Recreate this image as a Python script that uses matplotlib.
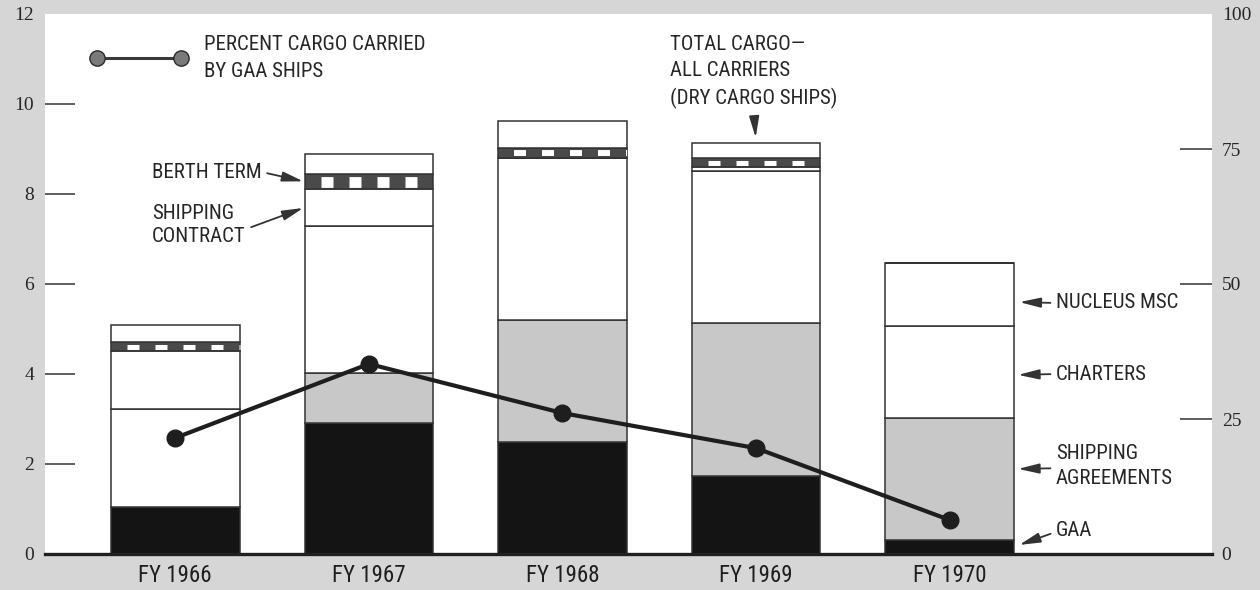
import matplotlib
matplotlib.use('Agg')
import matplotlib.pyplot as plt
from matplotlib.lines import Line2D
from matplotlib import font_manager as fm
import numpy as np

# ---------------- data (millions of long tons) ----------------
years = ['FY 1966', 'FY 1967', 'FY 1968', 'FY 1969', 'FY 1970']
gaa = [1.05, 2.92, 2.50, 1.73, 0.32]
agreements = [0.00, 1.10, 2.70, 3.40, 2.70]
charters = [2.17, 3.27, 3.60, 3.38, 2.05]
nucleus = [0.00, 0.00, 0.00, 0.00, 1.40]
contract = [1.29, 0.82, 0.00, 0.09, 0.00]
berth = [0.20, 0.33, 0.22, 0.20, 0.00]
other = [0.38, 0.45, 0.60, 0.33, 0.00]
pct_gaa = [21.5, 35.2, 26.1, 19.6, 6.3]

left_ticks = [2, 4, 6, 8, 10]
left_end_ticks = [0, 12]
right_ticks = [25, 50, 75]
right_end_ticks = [0, 100]

# ---------------- fonts ----------------
avail = {f.name for f in fm.fontManager.ttflist}
def pick(*names):
    for n in names:
        if n in avail:
            return n
    return 'DejaVu Sans'
SANS = pick('Liberation Sans Narrow', 'DejaVu Sans Condensed', 'Roboto Condensed', 'Liberation Sans')
SERIF = pick('Liberation Serif', 'DejaVu Serif')
plt.rcParams['lines.scale_dashes'] = False

INK = '#262626'
W, H = 1260, 590
fig = plt.figure(figsize=(W / 100, H / 100), dpi=100, facecolor='#d6d6d6')
AX_L, AX_R, AX_B, AX_T = 45, 1212, 554, 14
ax = fig.add_axes([AX_L / W, (H - AX_B) / H, (AX_R - AX_L) / W, (AX_B - AX_T) / H])
ax.set_facecolor('white')
for s in ax.spines.values():
    s.set_visible(False)

x = np.arange(len(years))
w = 0.664
ax.set_xlim(-0.673, 5.355)
ax.set_ylim(0, 12)

segments = [(gaa, '#141414'), (agreements, '#c8c8c8'), (charters, 'white'),
            (nucleus, 'white'), (contract, 'white'), (berth, '#4a4a4a'), (other, 'white')]
bottom = np.zeros(len(years))
bottoms = []
for vals, col in segments:
    vals = np.asarray(vals, dtype=float)
    bottoms.append(bottom.copy())
    ax.bar(x, vals, w, bottom=bottom, color=col, edgecolor='#333333',
           linewidth=1.1, zorder=2)
    bottom = bottom + vals
total = bottom
berth_bottom = bottoms[5]

# checker dashes on the berth-term band
px_per_unit = (AX_B - AX_T) / 12.0
for i in x:
    if berth[i] > 0:
        yc = berth_bottom[i] + berth[i] / 2
        lw_px = max(berth[i] * px_per_unit - 4, 3)
        ax.plot([i - w / 2, i + w / 2], [yc, yc], color='white', lw=lw_px * 0.72,
                linestyle=(12 * 0.72, (12 * 0.72, 16 * 0.72)),
                dash_capstyle='butt', solid_capstyle='butt', zorder=3)

ax.axhline(0, color='#202020', lw=2.4, zorder=4, clip_on=False)

# left axis ticks
ax.set_yticks(left_ticks, labels=[str(t) for t in left_ticks])
ax.set_yticks(left_end_ticks, labels=[str(t) for t in left_end_ticks], minor=True)
ax.tick_params(axis='y', which='major', direction='in', length=21.6, width=1.1,
               color='#333333', pad=8, labelsize=14, labelcolor=INK)
ax.tick_params(axis='y', which='minor', length=0, pad=8, labelsize=14, labelcolor=INK)
ax.set_xticks(x, labels=years)
ax.tick_params(axis='x', length=0, pad=7, labelsize=16.5, labelcolor='#1e1e1e')
for lbl in ax.get_yticklabels(which='both'):
    lbl.set_fontfamily(SERIF)
for lbl in ax.get_xticklabels():
    lbl.set_fontfamily(SANS)

# right axis (percent)
ax2 = ax.twinx()
for s in ax2.spines.values():
    s.set_visible(False)
ax2.set_ylim(0, 100)
ax2.set_yticks(right_ticks, labels=[str(t) for t in right_ticks])
ax2.set_yticks(right_end_ticks, labels=[str(t) for t in right_end_ticks], minor=True)
ax2.tick_params(axis='y', which='major', direction='in', length=23, width=1.1,
                color='#333333', pad=7, labelsize=14, labelcolor=INK)
ax2.tick_params(axis='y', which='minor', length=0, pad=7, labelsize=14, labelcolor=INK)
for lbl in ax2.get_yticklabels(which='both'):
    lbl.set_fontfamily(SERIF)

ax2.plot(x, pct_gaa, color='#1e1e1e', lw=3, marker='o', ms=12,
         markerfacecolor='#1e1e1e', markeredgecolor='#1e1e1e', zorder=5)

# legend
handle = Line2D([], [], color='#3a3a3a', lw=2.2, marker='o', ms=11,
                markerfacecolor='#7a7a7a', markeredgecolor='#2a2a2a')
leg = ax2.legend([handle], ['PERCENT CARGO CARRIED\nBY GAA SHIPS'], numpoints=2,
                 loc='upper left', bbox_to_anchor=(91 / W, 1 - 35 / H),
                 bbox_transform=fig.transFigure, frameon=False, handlelength=4.6,
                 handletextpad=0.8, borderpad=0, borderaxespad=0,
                 prop={'family': SANS, 'size': 15})
for t in leg.get_texts():
    t.set_color(INK)
    t.set_linespacing(1.55)

# annotations
def fpx(xp, yp):
    return (xp, H - yp)

def arrow(relpos, sA=2, sB=2):
    return dict(arrowstyle='-|>,head_length=0.85,head_width=0.2', color='#333333',
                lw=1.3, shrinkA=sA, shrinkB=sB, relpos=relpos)

tk = dict(family=SANS, size=15, color=INK, textcoords='figure pixels')

ax.annotate('BERTH TERM', xy=(x[1] - w / 2, berth_bottom[1] + berth[1] / 2),
            xytext=fpx(152, 172), ha='left', va='center',
            arrowprops=arrow((1, 0.5), 2, 1), **tk)
ax.annotate('SHIPPING\nCONTRACT', xy=(x[1] - w / 2, bottoms[4][1] + contract[1] / 2),
            xytext=fpx(152, 225), ha='left', va='center', linespacing=1.25,
            arrowprops=arrow((1, 0.4), 2, 1), **tk)
ax.annotate('TOTAL CARGO\u2014\nALL CARRIERS\n(DRY CARGO SHIPS)', xy=(x[3], total[3]),
            xytext=fpx(670, 72), ha='left', va='center', linespacing=1.5,
            arrowprops=arrow((0.5, 0), 5, 4), **tk)

rx = x[4] + w / 2
ax.annotate('NUCLEUS MSC', xy=(rx, H - 302), xycoords=('data', 'figure pixels'),
            xytext=fpx(1056, 303), ha='left', va='center',
            arrowprops=arrow((0, 0.5), 2, 4), **tk)
ax.annotate('CHARTERS', xy=(rx, H - 375), xycoords=('data', 'figure pixels'),
            xytext=fpx(1056, 374), ha='left', va='center',
            arrowprops=arrow((0, 0.5), 2, 3), **tk)
ax.annotate('SHIPPING\nAGREEMENTS', xy=(rx, H - 469), xycoords=('data', 'figure pixels'),
            xytext=fpx(1056, 466), ha='left', va='center', linespacing=1.45,
            arrowprops=arrow((0, 0.45), 2, 3), **tk)
ax.annotate('GAA', xy=(rx, gaa[4] / 2), xytext=fpx(1056, 530), ha='left', va='center',
            arrowprops=arrow((0, 0.4), 2, 4), **tk)

fig.savefig('out.png', dpi=100, facecolor=fig.get_facecolor())
